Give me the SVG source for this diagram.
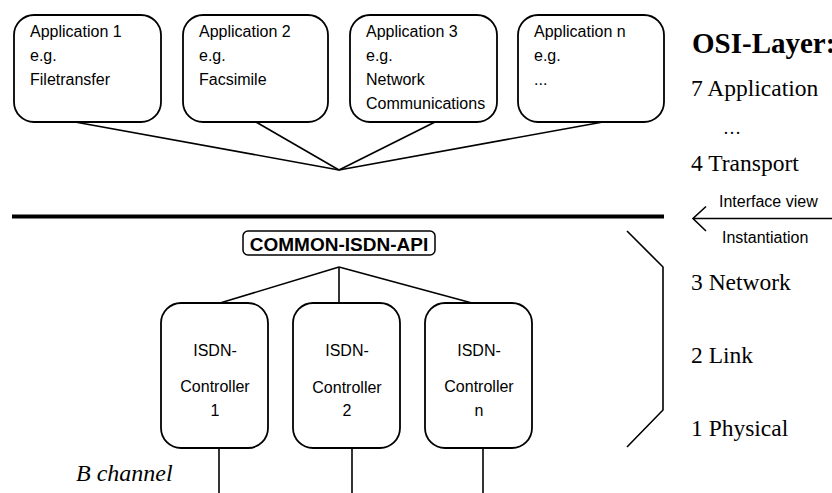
<svg xmlns="http://www.w3.org/2000/svg" width="832" height="493" viewBox="0 0 832 493">
  <style>
    .box { fill: #ffffff; stroke: #000000; stroke-width: 1.8; }
    .line { fill: none; stroke: #000000; stroke-width: 1.6; }
    .sans { font-family: "Liberation Sans", Arial, sans-serif; font-size: 16px; fill: #000000; }
    .ctl { font-family: "Liberation Sans", Arial, sans-serif; font-size: 16px; fill: #000000; text-anchor: middle; }
    .serif { font-family: "Liberation Serif", "Times New Roman", serif; font-size: 23.5px; fill: #000000; }
    .title { font-size: 29px; font-weight: bold; }
    .dots { font-size: 18px; }
    .ital { font-size: 24px; font-style: italic; }
  </style>

  <rect width="832" height="493" fill="#ffffff"/>

  <!-- connectors -->
  <g id="connectors">
    <!-- applications to the common interface -->
    <line class="line" x1="75" y1="122" x2="339" y2="170"/>
    <line class="line" x1="256" y1="122" x2="339" y2="170"/>
    <line class="line" x1="435" y1="122" x2="339" y2="170"/>
    <line class="line" x1="603" y1="122" x2="339" y2="170"/>
    <!-- interface boundary -->
    <line x1="12" y1="216.5" x2="664" y2="216.5" stroke="#000000" stroke-width="4"/>
    <!-- API to controllers -->
    <line class="line" x1="339" y1="267" x2="220" y2="303"/>
    <line class="line" x1="339" y1="267" x2="339" y2="303"/>
    <line class="line" x1="339" y1="267" x2="472" y2="303"/>
    <!-- B channels -->
    <line class="line" x1="219" y1="448" x2="219" y2="493"/>
    <line class="line" x1="352" y1="448" x2="352" y2="493"/>
    <line class="line" x1="483" y1="448" x2="483" y2="493"/>
    <!-- bracket for layers 1-3 -->
    <polyline class="line" points="627,231 663,267 663,410 627,447"/>
    <!-- interface view arrow -->
    <line class="line" x1="693" y1="218.5" x2="832" y2="218.5"/>
    <polyline class="line" points="706,206.5 693,218.5 706,231"/>
  </g>

  <!-- applications -->
  <g id="app1">
    <rect class="box" x="14" y="15" width="147" height="107" rx="20"/>
    <text class="sans" x="30" y="36.5">Application 1</text>
    <text class="sans" x="30" y="60.5">e.g.</text>
    <text class="sans" x="30" y="84.5">Filetransfer</text>
  </g>
  <g id="app2">
    <rect class="box" x="183" y="15" width="145" height="107" rx="20"/>
    <text class="sans" x="199" y="36.5">Application 2</text>
    <text class="sans" x="199" y="60.5">e.g.</text>
    <text class="sans" x="199" y="84.5">Facsimile</text>
  </g>
  <g id="app3">
    <rect class="box" x="350" y="15" width="147" height="107" rx="20"/>
    <text class="sans" x="366" y="36.5">Application 3</text>
    <text class="sans" x="366" y="60.5">e.g.</text>
    <text class="sans" x="366" y="84.5">Network</text>
    <text class="sans" x="366" y="109">Communications</text>
  </g>
  <g id="appn">
    <rect class="box" x="518" y="15" width="146" height="107" rx="20"/>
    <text class="sans" x="534" y="36.5">Application n</text>
    <text class="sans" x="534" y="60.5">e.g.</text>
    <text class="sans" x="534" y="84.5">...</text>
  </g>

  <!-- common API -->
  <g id="api">
    <rect x="243" y="231" width="192" height="24" rx="5" fill="#ffffff" stroke="#000000" stroke-width="1.5"/>
    <text x="339" y="251" text-anchor="middle" font-family="'Liberation Sans', Arial, sans-serif" font-size="19" font-weight="bold">COMMON-ISDN-API</text>
  </g>

  <!-- controllers -->
  <g id="ctrl1">
    <rect class="box" x="161" y="303" width="107" height="145" rx="20"/>
    <text class="ctl" x="215" y="356">ISDN-</text>
    <text class="ctl" x="215" y="392">Controller</text>
    <text class="ctl" x="215" y="415.5">1</text>
  </g>
  <g id="ctrl2">
    <rect class="box" x="293" y="303" width="107" height="145" rx="20"/>
    <text class="ctl" x="347" y="356">ISDN-</text>
    <text class="ctl" x="347" y="393">Controller</text>
    <text class="ctl" x="347" y="415.5">2</text>
  </g>
  <g id="ctrln">
    <rect class="box" x="425" y="303" width="107" height="145" rx="20"/>
    <text class="ctl" x="479" y="356">ISDN-</text>
    <text class="ctl" x="479" y="392">Controller</text>
    <text class="ctl" x="479" y="415.5">n</text>
  </g>

  <!-- OSI layer legend -->
  <g id="osi">
    <text class="serif title" x="692" y="53">OSI-Layer:</text>
    <text class="serif" x="691" y="96">7 Application</text>
    <text class="serif dots" x="723" y="134">…</text>
    <text class="serif" x="691" y="171">4 Transport</text>
    <text class="serif" x="691" y="290">3 Network</text>
    <text class="serif" x="691" y="363">2 Link</text>
    <text class="serif" x="691" y="436">1 Physical</text>
  </g>

  <g id="interface-labels">
    <text class="sans" x="719" y="207">Interface view</text>
    <text class="sans" x="722" y="243">Instantiation</text>
  </g>

  <g id="b-channel">
    <text class="serif ital" x="76" y="481">B channel</text>
  </g>
</svg>
